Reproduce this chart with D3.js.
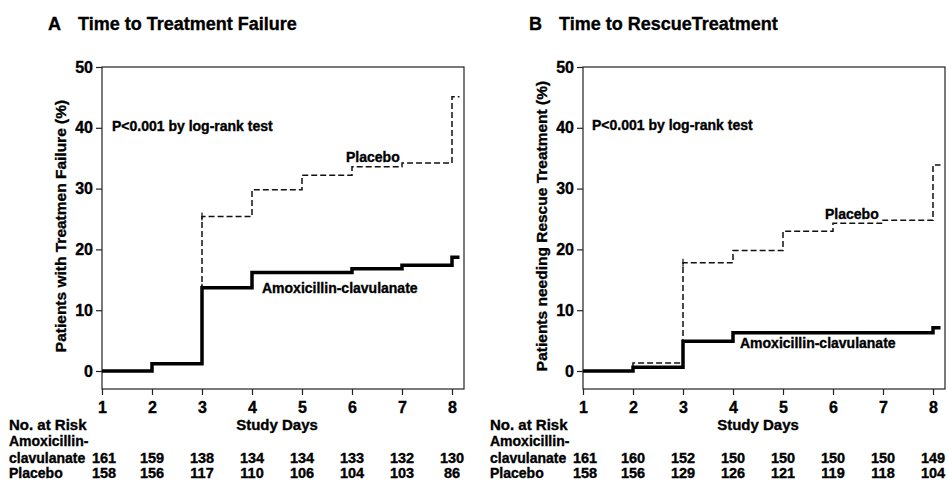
<!DOCTYPE html>
<html>
<head>
<meta charset="utf-8">
<script src="https://cdn.jsdelivr.net/npm/d3@7"></script>
<style>
  body { margin: 0; background: #fff; }
  svg text { font-family: "Liberation Sans", Arial, sans-serif; font-weight: bold; fill: #000;
             stroke: #000; stroke-width: 0.35px; }
</style>
</head>
<body>
<div id="chart"></div>
<script>
// study days and the at-risk columns
const days = [1, 2, 3, 4, 5, 6, 7, 8];
const lastDay = 8.15;
const yTicks = [0, 10, 20, 30, 40, 50];

// panel A - time to treatment failure (%)
const failAmox    = [0, 1.2, 13.7, 16.2, 16.2, 16.8, 17.4, 18.7];
const failPlacebo = [0, 1.2, 25.4, 29.8, 32.2, 33.6, 34.2, 45.1];
const riskFailAmox    = [161, 159, 138, 134, 134, 133, 132, 130];
const riskFailPlacebo = [158, 156, 117, 110, 106, 104, 103, 86];

// panel B - time to rescue treatment (%)
const rescueAmox    = [0, 0.6, 4.9, 6.3, 6.3, 6.3, 6.3, 7.1];
const rescuePlacebo = [0, 1.3, 17.8, 19.8, 23.0, 24.3, 24.8, 33.9];
const riskRescueAmox    = [161, 160, 152, 150, 150, 150, 150, 149];
const riskRescuePlacebo = [158, 156, 129, 126, 121, 119, 118, 104];

// censoring marks [day, value]
const censorFail   = [[3, 25.4], [3, 13.7]];
const censorRescue = [[3, 17.8]];

const panels = [
  { left: 102, letter: "A", title: "Time to Treatment Failure",
    ylabel: "Patients with Treatmen Failure (%)",
    amox: failAmox, placebo: failPlacebo,
    riskAmox: riskFailAmox, riskPlacebo: riskFailPlacebo, censor: censorFail,
    pPos: [1.2, 40.3], placeboPos: [5.88, 35.2], amoxPos: [4.2, 13.7] },
  { left: 583, letter: "B", title: "Time to RescueTreatment",
    ylabel: "Patients needing Rescue Treatment (%)",
    amox: rescueAmox, placebo: rescuePlacebo,
    riskAmox: riskRescueAmox, riskPlacebo: riskRescuePlacebo, censor: censorRescue,
    pPos: [1.18, 40.5], placeboPos: [5.84, 25.8], amoxPos: [4.14, 4.6] }
];

const W = 948, H = 482;
const plotTop = 67, plotBottom = 389, plotW = 362;

const svg = d3.select("#chart").append("svg")
  .attr("width", W).attr("height", H);

function stepPoints(vals) {
  var pts = [];
  vals.forEach(function(v, i) {
    pts.push([days[i], v]);
    pts.push([i < days.length - 1 ? days[i + 1] : lastDay, v]);
  });
  return pts;
}

panels.forEach(function(p) {
  var x = d3.scaleLinear().domain([1, 8.24]).range([p.left, p.left + plotW]);
  var y = d3.scaleLinear().domain([-2.96, 50]).range([plotBottom, plotTop]);
  var g = svg.append("g");

  // title
  g.append("text").attr("x", p.left - 54).attr("y", 30)
    .style("font-size", "18px").text(p.letter);
  g.append("text").attr("x", p.left - 24).attr("y", 30)
    .style("font-size", "18px").text(p.title);

  // frame
  g.append("rect")
    .attr("x", p.left).attr("y", plotTop)
    .attr("width", plotW).attr("height", plotBottom - plotTop)
    .attr("fill", "none").attr("stroke", "#222").attr("stroke-width", 1.2);

  // axes
  var xAxis = g.append("g")
    .attr("transform", "translate(0," + plotBottom + ")")
    .call(d3.axisBottom(x).tickValues(days).tickSize(6).tickPadding(7));
  var yAxis = g.append("g")
    .attr("transform", "translate(" + p.left + ",0)")
    .call(d3.axisLeft(y).tickValues(yTicks).tickSize(6).tickPadding(3));
  [xAxis, yAxis].forEach(function(a) {
    a.select(".domain").remove();
    a.selectAll(".tick line").attr("stroke", "#222").attr("stroke-width", 1.2);
    a.selectAll("text").style("font-size", "16px").attr("font-family", null).attr("fill", "#000");
  });

  // y label
  g.append("text")
    .attr("transform", "translate(" + (p.left - 36) + "," + ((plotTop + plotBottom) / 2 - 2) + ") rotate(-90)")
    .attr("text-anchor", "middle")
    .style("font-size", "15.5px").text(p.ylabel);

  var line = d3.line().x(function(d) { return x(d[0]); }).y(function(d) { return y(d[1]); });

  g.append("path").datum(stepPoints(p.placebo))
    .attr("d", line).attr("fill", "none")
    .attr("stroke", "#111").attr("stroke-width", 1.5)
    .attr("stroke-dasharray", "6,3");

  g.append("path").datum(stepPoints(p.amox))
    .attr("d", line).attr("fill", "none")
    .attr("stroke", "#000").attr("stroke-width", 3.5);

  g.selectAll(".censor").data(p.censor).enter().append("line")
    .attr("x1", function(d) { return x(d[0]); })
    .attr("x2", function(d) { return x(d[0]); })
    .attr("y1", function(d) { return y(d[1]) - 4; })
    .attr("y2", function(d) { return y(d[1]) + 4; })
    .attr("stroke", "#111").attr("stroke-width", 1.2);

  // annotations
  g.append("text").attr("x", x(p.pPos[0])).attr("y", y(p.pPos[1])).attr("dy", "0.35em")
    .style("font-size", "14px").text("P<0.001 by log-rank test");
  g.append("text").attr("x", x(p.placeboPos[0])).attr("y", y(p.placeboPos[1])).attr("dy", "0.35em")
    .style("font-size", "14px").text("Placebo");
  g.append("text").attr("x", x(p.amoxPos[0])).attr("y", y(p.amoxPos[1])).attr("dy", "0.35em")
    .style("font-size", "14px").text("Amoxicillin-clavulanate");

  // at-risk table
  g.append("text").attr("x", x(4.5)).attr("y", 430).attr("text-anchor", "middle")
    .style("font-size", "15px").text("Study Days");
  g.append("text").attr("x", p.left - 93).attr("y", 430)
    .style("font-size", "15px").text("No. at Risk");
  g.append("text").attr("x", p.left - 93).attr("y", 446)
    .style("font-size", "14px").text("Amoxicillin-");
  g.append("text").attr("x", p.left - 93).attr("y", 463)
    .style("font-size", "14px").text("clavulanate");
  g.append("text").attr("x", p.left - 93).attr("y", 478)
    .style("font-size", "14px").text("Placebo");

  g.selectAll(".riskA").data(p.riskAmox).enter().append("text")
    .attr("x", function(d, i) { return x(days[i]) + (i === 0 ? 2 : 0); })
    .attr("y", 463).attr("text-anchor", "middle")
    .style("font-size", "14.5px").text(function(d) { return d; });
  g.selectAll(".riskP").data(p.riskPlacebo).enter().append("text")
    .attr("x", function(d, i) { return x(days[i]) + (i === 0 ? 2 : 0); })
    .attr("y", 478).attr("text-anchor", "middle")
    .style("font-size", "14.5px").text(function(d) { return d; });
});
</script>
</body>
</html>
